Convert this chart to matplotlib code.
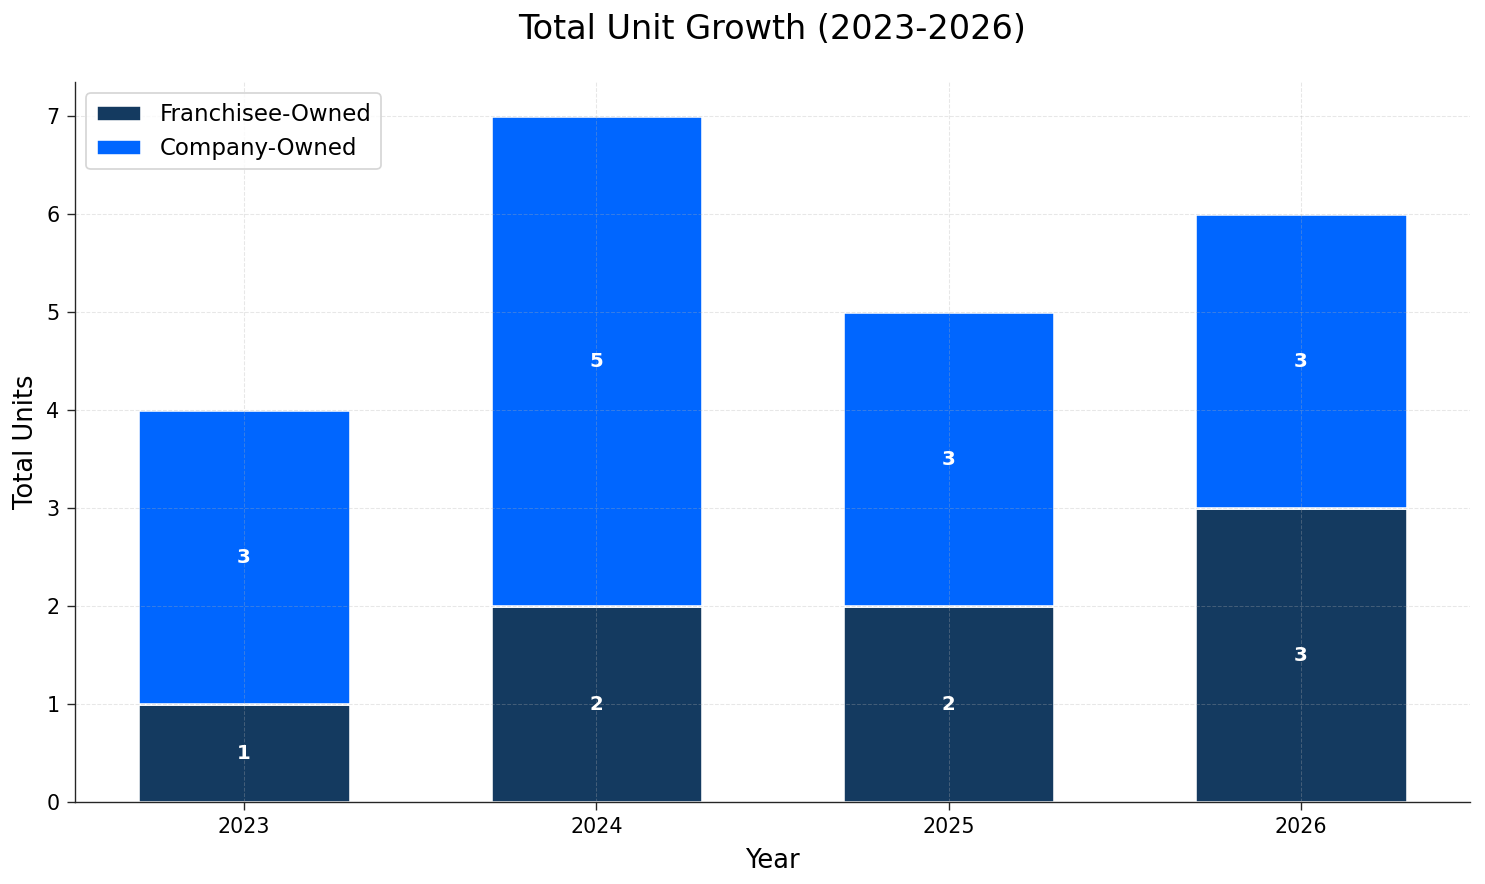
import numpy as np
import matplotlib.pyplot as plt

years = ["2023", "2024", "2025", "2026"]
franchisee = [1, 2, 2, 3]
company = [3, 5, 3, 3]

navy = "#143A60"
blue = "#0066FF"

fig, ax = plt.subplots(figsize=(12, 884 / 123.75), dpi=123.75)
x = np.arange(len(years))

ax.bar(x, franchisee, 0.6, color=navy, edgecolor="white", linewidth=1.5, label="Franchisee-Owned")
ax.bar(x, company, 0.6, bottom=franchisee, color=blue, edgecolor="white", linewidth=1.5, label="Company-Owned")

for i in range(len(years)):
    ax.text(x[i], franchisee[i] / 2, str(franchisee[i]), ha="center", va="center",
            color="white", fontweight="bold", fontsize=11.5)
    ax.text(x[i], franchisee[i] + company[i] / 2, str(company[i]), ha="center", va="center",
            color="white", fontweight="bold", fontsize=11.5)

ax.set_xticks(x)
ax.set_xticklabels(years, fontsize=12)
ax.tick_params(axis="y", labelsize=12)
ax.tick_params(colors="#262626", labelcolor="black", length=4.5, pad=4.5)
ax.set_xlabel("Year", fontsize=15, labelpad=6)
ax.set_ylabel("Total Units", fontsize=15)
ax.set_title("Total Unit Growth (2023-2026)", fontsize=19.5, pad=25)
ax.grid(True, linestyle="--", alpha=0.3, linewidth=0.6)
ax.spines["top"].set_visible(False)
ax.spines["right"].set_visible(False)
for s in ["left", "bottom"]:
    ax.spines[s].set_color("#262626")
ax.legend(loc="upper left", fontsize=13.3)

fig.subplots_adjust(left=75 / 1485, right=1470 / 1485, top=1 - 82 / 884, bottom=1 - 802 / 884)
plt.savefig("out.png", dpi=123.75)
